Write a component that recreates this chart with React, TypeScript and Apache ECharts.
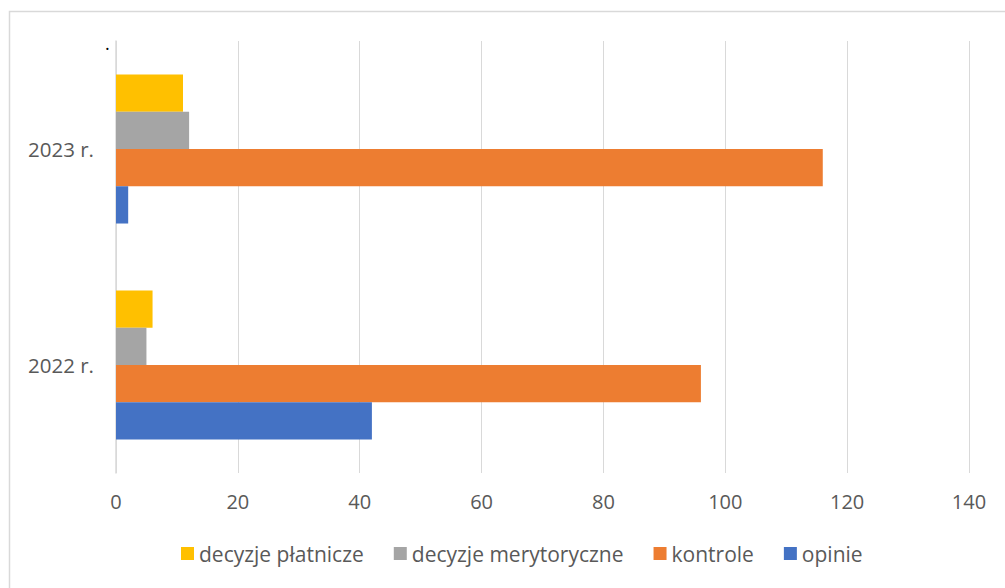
import React, { useEffect, useRef } from "react";
import * as echarts from "echarts";

const categories = ["2022 r.", "2023 r."];
const opinie = [42, 2];
const kontrole = [96, 116];
const decyzjeMerytoryczne = [5, 12];
const decyzjePlatnicze = [6, 11];
const xTicks = { min: 0, max: 140, interval: 20 };

const FONT = "'Open Sans', 'Liberation Sans', sans-serif";
const TEXT = "#595959";
const GRID = "#d9d9d9";

export default function App() {
  const ref = useRef<HTMLDivElement>(null);

  useEffect(() => {
    if (!ref.current) return;
    const chart = echarts.init(ref.current, undefined, { renderer: "svg" });
    const bar = (name: string, data: number[], color: string) => ({
      name,
      type: "bar",
      data,
      barGap: "0%",
      barCategoryGap: "31%",
      itemStyle: { color },
    });
    chart.setOption({
      animation: false,
      backgroundColor: "#ffffff",
      textStyle: { fontFamily: FONT },
      graphic: [
        {
          type: "rect",
          shape: { x: 9.5, y: 11.5, width: 1100, height: 700 },
          style: { fill: "none", stroke: GRID, lineWidth: 1.5 },
          silent: true,
        },
        {
          type: "text",
          x: 105,
          y: 34,
          style: { text: ".", fill: "#000", fontSize: 18, fontFamily: FONT },
        },
      ],
      grid: { left: 116, right: 36, top: 41, bottom: 115, containLabel: false },
      legend: {
        bottom: 19,
        left: 176,
        itemWidth: 13,
        itemHeight: 13,
        itemGap: 30,
        icon: "rect",
        data: ["decyzje płatnicze", "decyzje merytoryczne", "kontrole", "opinie"],
        textStyle: { color: TEXT, fontSize: 21, fontFamily: FONT },
      },
      xAxis: {
        type: "value",
        min: xTicks.min,
        max: xTicks.max,
        interval: xTicks.interval,
        axisLine: { show: false },
        axisTick: { show: false },
        splitLine: { lineStyle: { color: GRID, width: 1 } },
        axisLabel: { color: TEXT, fontSize: 20, margin: 18, fontFamily: FONT },
      },
      yAxis: {
        type: "category",
        data: categories,
        axisLine: { show: true, lineStyle: { color: GRID, width: 1.5 } },
        axisTick: { show: false },
        axisLabel: { color: TEXT, fontSize: 20.5, margin: 22, fontFamily: FONT },
      },
      series: [
        bar("decyzje płatnicze", decyzjePlatnicze, "#FFC000"),
        bar("decyzje merytoryczne", decyzjeMerytoryczne, "#A5A5A5"),
        bar("kontrole", kontrole, "#ED7D31"),
        bar("opinie", opinie, "#4472C4"),
      ],
    });
    return () => chart.dispose();
  }, []);

  return (
    <div
      ref={ref}
      style={{ position: "absolute", left: 0, top: 0, width: 1005, height: 588 }}
    />
  );
}
